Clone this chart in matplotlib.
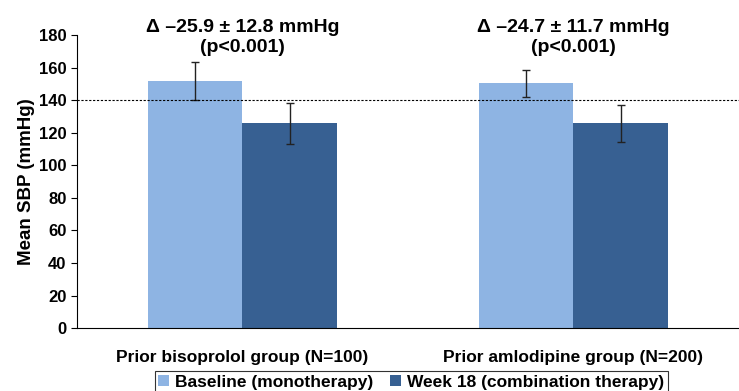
import numpy as np
import matplotlib
matplotlib.use("Agg")
from matplotlib import pyplot as plt

groups = ["Prior bisoprolol group (N=100)", "Prior amlodipine group (N=200)"]
series = ["Baseline (monotherapy)", "Week 18 (combination therapy)"]
baseline = [151.7, 150.5]
baseline_err = [11.7, 8.4]
week18 = [125.9, 125.9]
week18_err = [12.7, 11.3]
deltas = ["\u0394 \u201325.9 \u00b1 12.8 mmHg\n(p<0.001)", "\u0394 \u201324.7 \u00b1 11.7 mmHg\n(p<0.001)"]
target = 140
yticks = [0, 20, 40, 60, 80, 100, 120, 140, 160, 180]

plt.rcParams["font.family"] = ["Liberation Sans", "DejaVu Sans"]
plt.rcParams["font.weight"] = "bold"

fig = plt.figure(figsize=(7.39, 3.91), dpi=100)
ax = fig.add_axes([0.104, 0.161, 0.896, 0.749])

x = np.arange(len(groups))
w = 0.286
ax.bar(x - w / 2, baseline, w, color="#8eb4e3", label=series[0])
ax.bar(x + w / 2, week18, w, color="#376092", label=series[1])
ax.errorbar(x - w / 2, baseline, yerr=baseline_err, fmt="none", ecolor="#222222",
            elinewidth=1, capsize=3, capthick=1)
ax.errorbar(x + w / 2, week18, yerr=week18_err, fmt="none", ecolor="#222222",
            elinewidth=1, capsize=3, capthick=1)
ax.axhline(target, color="black", linestyle=(0, (2, 1.5)), linewidth=0.8)

for xi, txt in zip(x, deltas):
    ax.text(xi, 167, txt, ha="center", va="bottom", fontsize=14, fontweight="bold",
            linespacing=1.25)

ax.set_xlim(-0.5, 1.5)
ax.set_ylim(0, 180)
ax.set_yticks(yticks)
ax.set_xticks(x)
ax.set_xticklabels(groups, fontsize=12.5, fontweight="bold")
ax.tick_params(axis="x", length=0, pad=16)
ax.tick_params(axis="y", labelsize=12, length=4, direction="out")
ax.set_ylabel("Mean SBP (mmHg)", fontsize=13.5, fontweight="bold", labelpad=3)
ax.spines["top"].set_visible(False)
ax.spines["right"].set_visible(False)

leg = ax.legend(loc="upper center", bbox_to_anchor=(0.505, -0.147), ncol=2,
                borderaxespad=0, frameon=True, fancybox=False, edgecolor="black",
                handlelength=0.6, handleheight=0.6, handletextpad=0.35,
                columnspacing=1.0, borderpad=0.2, prop={"weight": "bold", "size": 12.5})
leg.get_frame().set_linewidth(0.8)

fig.savefig("out.png", dpi=100)
